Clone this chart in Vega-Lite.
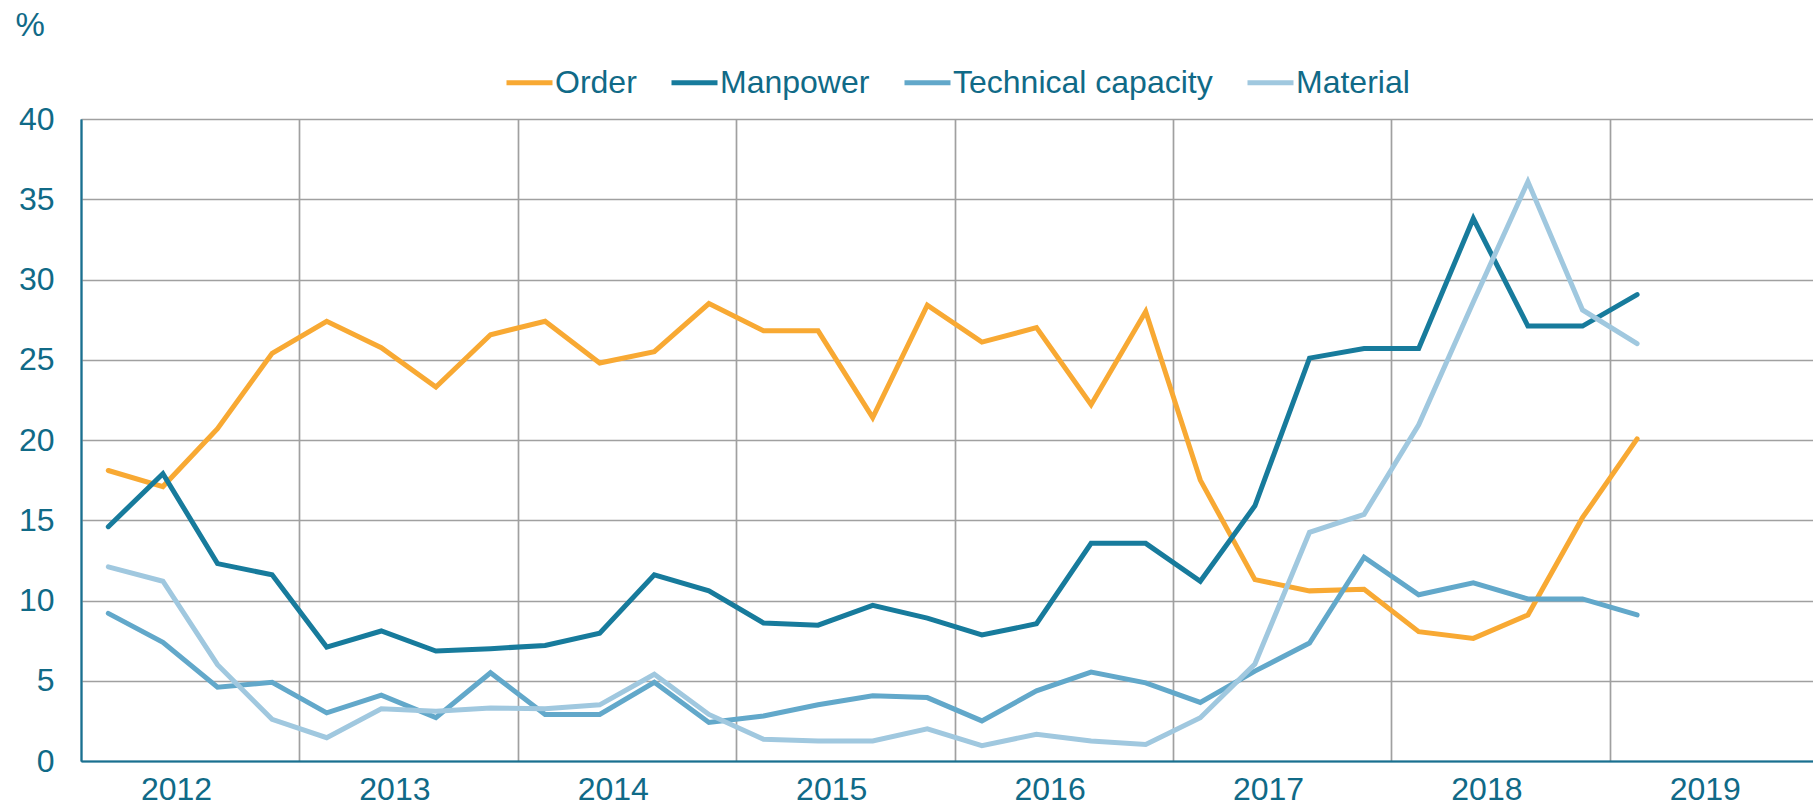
{
  "$schema": "https://vega.github.io/schema/vega-lite/v6.json",
  "width": 1732,
  "height": 642,
  "autosize": {"type": "none"},
  "padding": {"left": 81, "top": 119, "right": 0, "bottom": 45},
  "background": "white",
  "config": {
    "view": {"stroke": null},
    "font": "Liberation Sans"
  },
  "data": {
    "values": [
      {"t": 2012.125, "Order": 18.1, "Manpower": 14.6, "Technical capacity": 9.2, "Material": 12.1},
      {"t": 2012.375, "Order": 17.1, "Manpower": 17.9, "Technical capacity": 7.4, "Material": 11.2},
      {"t": 2012.625, "Order": 20.7, "Manpower": 12.3, "Technical capacity": 4.6, "Material": 6.0},
      {"t": 2012.875, "Order": 25.4, "Manpower": 11.6, "Technical capacity": 4.9, "Material": 2.6},
      {"t": 2013.125, "Order": 27.4, "Manpower": 7.1, "Technical capacity": 3.0, "Material": 1.45},
      {"t": 2013.375, "Order": 25.75, "Manpower": 8.1, "Technical capacity": 4.1, "Material": 3.26},
      {"t": 2013.625, "Order": 23.3, "Manpower": 6.85, "Technical capacity": 2.7, "Material": 3.1},
      {"t": 2013.875, "Order": 26.56, "Manpower": 7.0, "Technical capacity": 5.5, "Material": 3.3},
      {"t": 2014.125, "Order": 27.4, "Manpower": 7.2, "Technical capacity": 2.9, "Material": 3.26},
      {"t": 2014.375, "Order": 24.8, "Manpower": 7.96, "Technical capacity": 2.9, "Material": 3.5},
      {"t": 2014.625, "Order": 25.5, "Manpower": 11.6, "Technical capacity": 4.9, "Material": 5.4},
      {"t": 2014.875, "Order": 28.5, "Manpower": 10.6, "Technical capacity": 2.4, "Material": 2.9},
      {"t": 2015.125, "Order": 26.8, "Manpower": 8.6, "Technical capacity": 2.8, "Material": 1.36},
      {"t": 2015.375, "Order": 26.8, "Manpower": 8.46, "Technical capacity": 3.5, "Material": 1.25},
      {"t": 2015.625, "Order": 21.4, "Manpower": 9.7, "Technical capacity": 4.06, "Material": 1.25},
      {"t": 2015.875, "Order": 28.4, "Manpower": 8.9, "Technical capacity": 3.95, "Material": 2.0},
      {"t": 2016.125, "Order": 26.1, "Manpower": 7.85, "Technical capacity": 2.5, "Material": 0.95},
      {"t": 2016.375, "Order": 27.0, "Manpower": 8.55, "Technical capacity": 4.37, "Material": 1.67},
      {"t": 2016.625, "Order": 22.2, "Manpower": 13.56, "Technical capacity": 5.54, "Material": 1.25},
      {"t": 2016.875, "Order": 28.0, "Manpower": 13.56, "Technical capacity": 4.87, "Material": 1.03},
      {"t": 2017.125, "Order": 17.5, "Manpower": 11.2, "Technical capacity": 3.65, "Material": 2.7},
      {"t": 2017.375, "Order": 11.3, "Manpower": 15.9, "Technical capacity": 5.6, "Material": 6.04},
      {"t": 2017.625, "Order": 10.6, "Manpower": 25.1, "Technical capacity": 7.35, "Material": 14.25},
      {"t": 2017.875, "Order": 10.7, "Manpower": 25.7, "Technical capacity": 12.7, "Material": 15.37},
      {"t": 2018.125, "Order": 8.06, "Manpower": 25.7, "Technical capacity": 10.36, "Material": 20.95},
      {"t": 2018.375, "Order": 7.64, "Manpower": 33.8, "Technical capacity": 11.1, "Material": 28.6},
      {"t": 2018.625, "Order": 9.1, "Manpower": 27.1, "Technical capacity": 10.1, "Material": 36.1},
      {"t": 2018.875, "Order": 15.16, "Manpower": 27.1, "Technical capacity": 10.1, "Material": 28.1},
      {"t": 2019.125, "Order": 20.07, "Manpower": 29.06, "Technical capacity": 9.1, "Material": 26.0}
    ]
  },
  "transform": [
    {"fold": ["Order", "Manpower", "Technical capacity", "Material"], "as": ["series", "value"]}
  ],
  "mark": {"type": "line", "strokeWidth": 5, "strokeCap": "round", "clip": true},
  "encoding": {
    "x": {
      "field": "t",
      "type": "quantitative",
      "scale": {"domain": [2012, 2019.9304], "nice": false, "zero": false},
      "axis": {
        "title": null,
        "values": [2012, 2013, 2014, 2015, 2016, 2017, 2018, 2019],
        "labelExpr": "format(datum.value, 'd')",
        "labelOffset": 95,
        "labelFontSize": 32,
        "labelColor": "#106a87",
        "labelPadding": 13,
        "labelOverlap": false,
        "labelFlush": false,
        "labelBound": false,
        "ticks": false,
        "tickSize": 0,
        "domainColor": "#1a7090",
        "domainWidth": 2,
        "grid": true,
        "gridColor": {"condition": {"test": "datum.value === 2012", "value": "#1a7090"}, "value": "#a0a0a0"},
        "gridWidth": 1.7
      }
    },
    "y": {
      "field": "value",
      "type": "quantitative",
      "scale": {"domain": [0, 40], "nice": false},
      "axis": {
        "title": "%",
        "titleAngle": 0,
        "titleAlign": "left",
        "titleBaseline": "alphabetic",
        "titleX": -66,
        "titleY": -84,
        "titleFontSize": 33,
        "titleFontWeight": "normal",
        "titleColor": "#106a87",
        "values": [0, 5, 10, 15, 20, 25, 30, 35, 40],
        "labelFontSize": 32,
        "labelColor": "#106a87",
        "labelPadding": 27,
        "ticks": false,
        "tickSize": 0,
        "domainColor": "#1a7090",
        "domainWidth": 2,
        "grid": true,
        "gridColor": {"condition": {"test": "datum.value === 0", "value": "#1a7090"}, "value": "#a0a0a0"},
        "gridWidth": 1.7
      }
    },
    "color": {
      "field": "series",
      "type": "nominal",
      "scale": {
        "domain": ["Order", "Manpower", "Technical capacity", "Material"],
        "range": ["#f8a933", "#177b9c", "#62a8ca", "#a0c8df"]
      },
      "legend": {
        "title": null,
        "orient": "none",
        "direction": "horizontal",
        "legendX": 423,
        "legendY": -62,
        "padding": 0,
        "symbolType": "stroke",
        "symbolSize": 2116,
        "symbolStrokeWidth": 5,
        "labelFontSize": 32,
        "labelColor": "#106a87",
        "labelOffset": 0,
        "labelLimit": 600,
        "columnPadding": 24
      }
    }
  }
}
